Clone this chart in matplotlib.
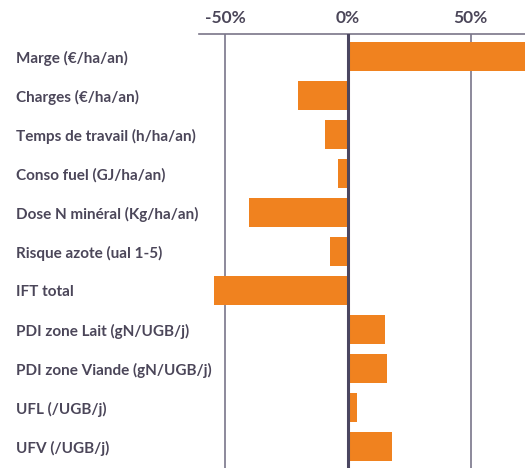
import numpy as np
import matplotlib.pyplot as plt

# indicateurs et variation relative (%)
labels = ["Marge (€/ha/an)", "Charges (€/ha/an)", "Temps de travail (h/ha/an)",
          "Conso fuel (GJ/ha/an)", "Dose N minéral (Kg/ha/an)", "Risque azote (ual 1-5)",
          "IFT total", "PDI zone Lait (gN/UGB/j)", "PDI zone Viande (gN/UGB/j)",
          "UFL (/UGB/j)", "UFV (/UGB/j)"]
values = [76, -20.4, -9.4, -4.1, -40.3, -7.3, -54.6, 15.1, 15.9, 3.7, 18.0]
xticks = [-50, 0, 50]
xticklabels = ["-50%", "0%", "50%"]

orange = "#f0821f"
txt = "#4b4659"

fig = plt.figure(figsize=(5.25, 4.68), dpi=100)
ax = fig.add_axes([199 / 525, 0, 1 - 199 / 525, 1 - 34 / 468])

y = np.arange(len(labels))
ax.barh(y, values, height=0.74, color=orange, zorder=1)

ax.set_xlim(-60.7, 72.1)
ax.set_ylim(10.55, -0.577)

# lignes verticales
for v in xticks:
    if v == 0:
        ax.axvline(v, color="#4a4660", lw=2.2, zorder=3)
    else:
        ax.axvline(v, color="#6e6a80", lw=1.1, zorder=0)

for s in ["right", "bottom", "left"]:
    ax.spines[s].set_visible(False)
ax.spines["top"].set_color("#7a7689")
ax.spines["top"].set_linewidth(1.2)

ax.xaxis.tick_top()
ax.set_xticks(xticks)
ax.set_xticklabels(xticklabels, fontsize=12.5, fontweight="bold", color=txt, family="Lato")
ax.tick_params(axis="x", length=0, pad=6)

ax.set_yticks(y)
ax.set_yticklabels(labels, fontsize=11, fontweight="bold", color=txt, family="Lato", ha="left")
ax.tick_params(axis="y", length=0, pad=183 / 100 * 72)

fig.savefig("out.png", dpi=100)
